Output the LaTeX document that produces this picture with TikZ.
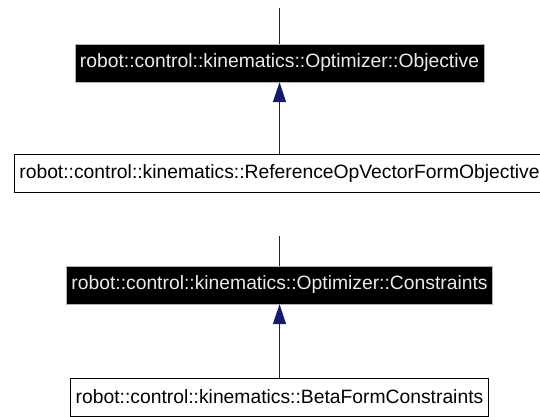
\documentclass[tikz,border=0pt]{standalone}
\usepackage{fontspec}
\setmainfont{Liberation Sans}
\usetikzlibrary{arrows.meta}
\definecolor{EdgeNavy}{RGB}{25, 25, 112}

\begin{document}
\begin{tikzpicture}[
    x=1pt, y=-1pt,
    classbox/.style={rectangle, minimum height=38pt, inner xsep=5pt, inner ysep=0pt, font=\fontsize{19.3}{23}\selectfont},
    parentbox/.style={classbox, draw=gray!60, fill=black, text=white!92!black},
    childbox/.style={classbox, draw=black, fill=white, line width=0.9pt},
    edge/.style={EdgeNavy, line width=1.3pt},
    inherit/.style={edge, -{Triangle[length=20pt, width=13pt]}}
]
    \useasboundingbox (0,0) rectangle (540,416);
    % Objective hierarchy
    \coordinate (objtop) at (279.5, 8);
    \node[parentbox] (obj) at (279.5, 63) {robot::control::kinematics::Optimizer::Objective};
    \node[childbox] (refop) at (279.5, 173.5) {robot::control::kinematics::ReferenceOpVectorFormObjective};
    % Constraints hierarchy
    \coordinate (constop) at (279.5, 236);
    \node[parentbox] (cons) at (279.5, 285) {robot::control::kinematics::Optimizer::Constraints};
    \node[childbox] (beta) at (279.5, 397) {robot::control::kinematics::BetaFormConstraints};
    \draw[edge] (objtop) -- (obj);
    \draw[inherit] (refop) -- (obj);
    \draw[edge] (constop) -- (cons);
    \draw[inherit] (beta) -- (cons);
\end{tikzpicture}
\end{document}
